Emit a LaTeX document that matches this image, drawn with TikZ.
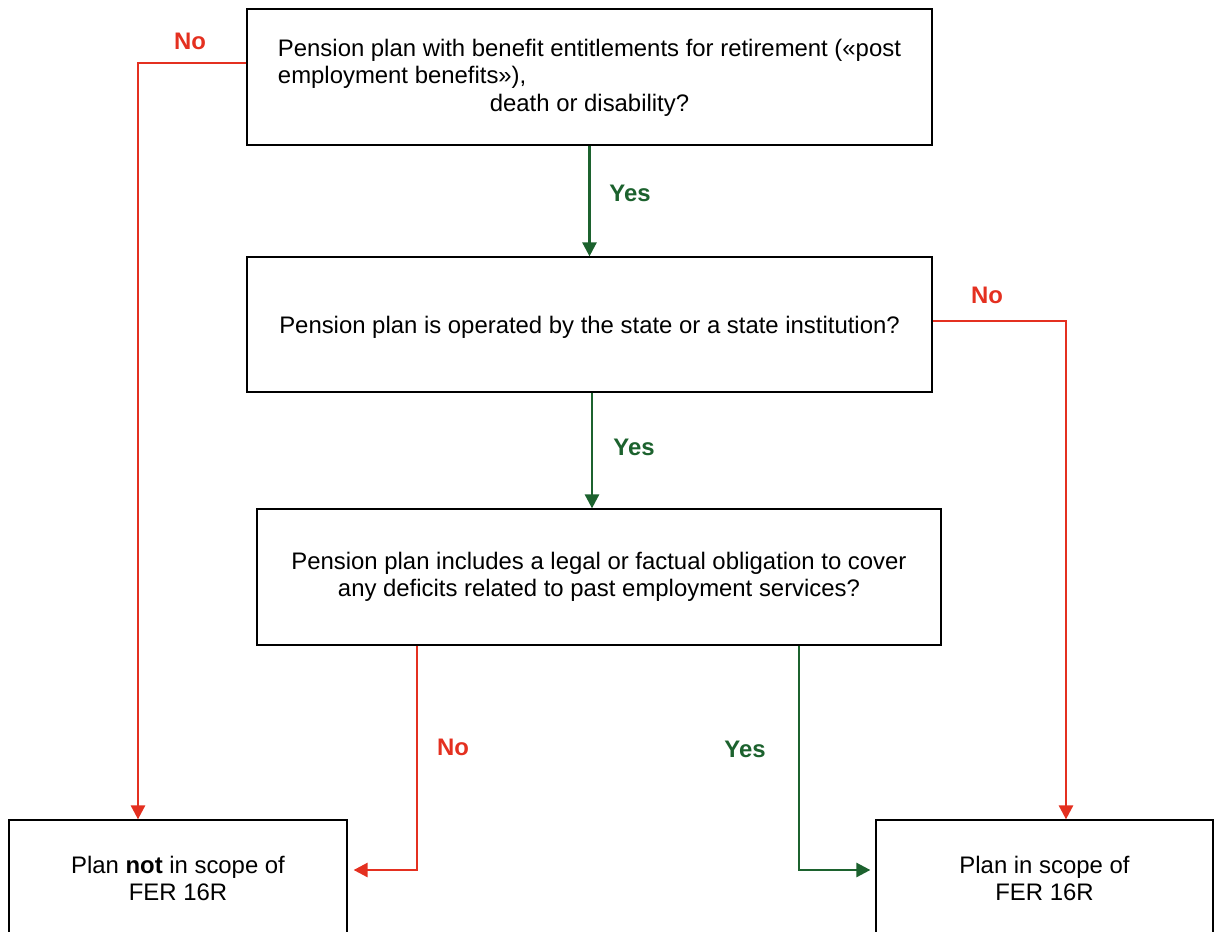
\documentclass[tikz,border=0pt]{standalone}
\usepackage{fontspec}
\setmainfont{Liberation Sans}
\usetikzlibrary{arrows.meta}
\definecolor{noRed}{RGB}{228,48,32}
\definecolor{yesGreen}{RGB}{28,98,46}
\begin{document}
\begin{tikzpicture}[
  box/.style={draw=black, line width=0.7pt, inner sep=0pt, align=center,
    font=\fontsize{13.6}{15.4}\selectfont},
  qbox/.style={box, execute at begin node={\rule{0pt}{13.3pt}}},
  noline/.style={draw=noRed, line width=1.5pt, -{Triangle[length=0.28cm,width=0.28cm]}},
  yesline/.style={draw=yesGreen, line width=1.5pt, -{Triangle[length=0.28cm,width=0.28cm]}},
  nolabel/.style={text=noRed, font=\fontsize{13.6}{15.4}\selectfont\bfseries},
  yeslabel/.style={text=yesGreen, font=\fontsize{13.6}{15.4}\selectfont\bfseries}
]
\useasboundingbox (0,0) rectangle (24.38,-18.64);
% questions
\node[box, minimum width=13.7cm, minimum height=2.72cm] (q1) at (11.79,-1.54)
  {\begin{tabular}[b]{@{}l@{}}Pension plan with benefit entitlements for retirement («post\\
   employment benefits»),\end{tabular}\\ death or disability?};
\node[qbox, minimum width=13.7cm, minimum height=2.7cm] (q2) at (11.79,-6.49)
  {Pension plan is operated by the state or a state institution?};
\node[qbox, minimum width=13.68cm, minimum height=2.72cm] (q3) at (11.98,-11.54)
  {Pension plan includes a legal or factual obligation to cover\\
   any deficits related to past employment services?};
% results
\node[box, minimum width=6.76cm, minimum height=2.32cm] (out) at (3.56,-17.56)
  {Plan \textbf{not} in scope of\\ FER 16R};
\node[box, minimum width=6.74cm, minimum height=2.32cm] (in) at (20.89,-17.56)
  {Plan in scope of\\ FER 16R};
% connectors
\draw[noline] ([yshift=0.28cm]q1.west) -| ([xshift=-0.8cm]out.north);
\draw[yesline] (q1.south) -- (q2.north);
\draw[noline] ([yshift=0.07cm]q2.east) -| ([xshift=0.43cm]in.north);
\draw[yesline] ([xshift=0.05cm]q2.south) -- ([xshift=0.05cm]q2.south |- q3.north);
\draw[noline, shorten >=0.12cm] ([xshift=-3.64cm]q3.south) |- ([yshift=0.16cm]out.east);
\draw[yesline, shorten >=0.1cm] ([xshift=4cm]q3.south) |- ([yshift=0.16cm]in.west);
% labels
\node[nolabel] (no1) at (3.8,-0.82) {No};
\node[yeslabel] (yes1) at (12.6,-3.86) {Yes};
\node[nolabel] (no2) at (19.74,-5.9) {No};
\node[yeslabel] (yes2) at (12.68,-8.94) {Yes};
\node[nolabel] (no3) at (9.06,-14.94) {No};
\node[yeslabel] (yes3) at (14.9,-14.98) {Yes};
\end{tikzpicture}
\end{document}
